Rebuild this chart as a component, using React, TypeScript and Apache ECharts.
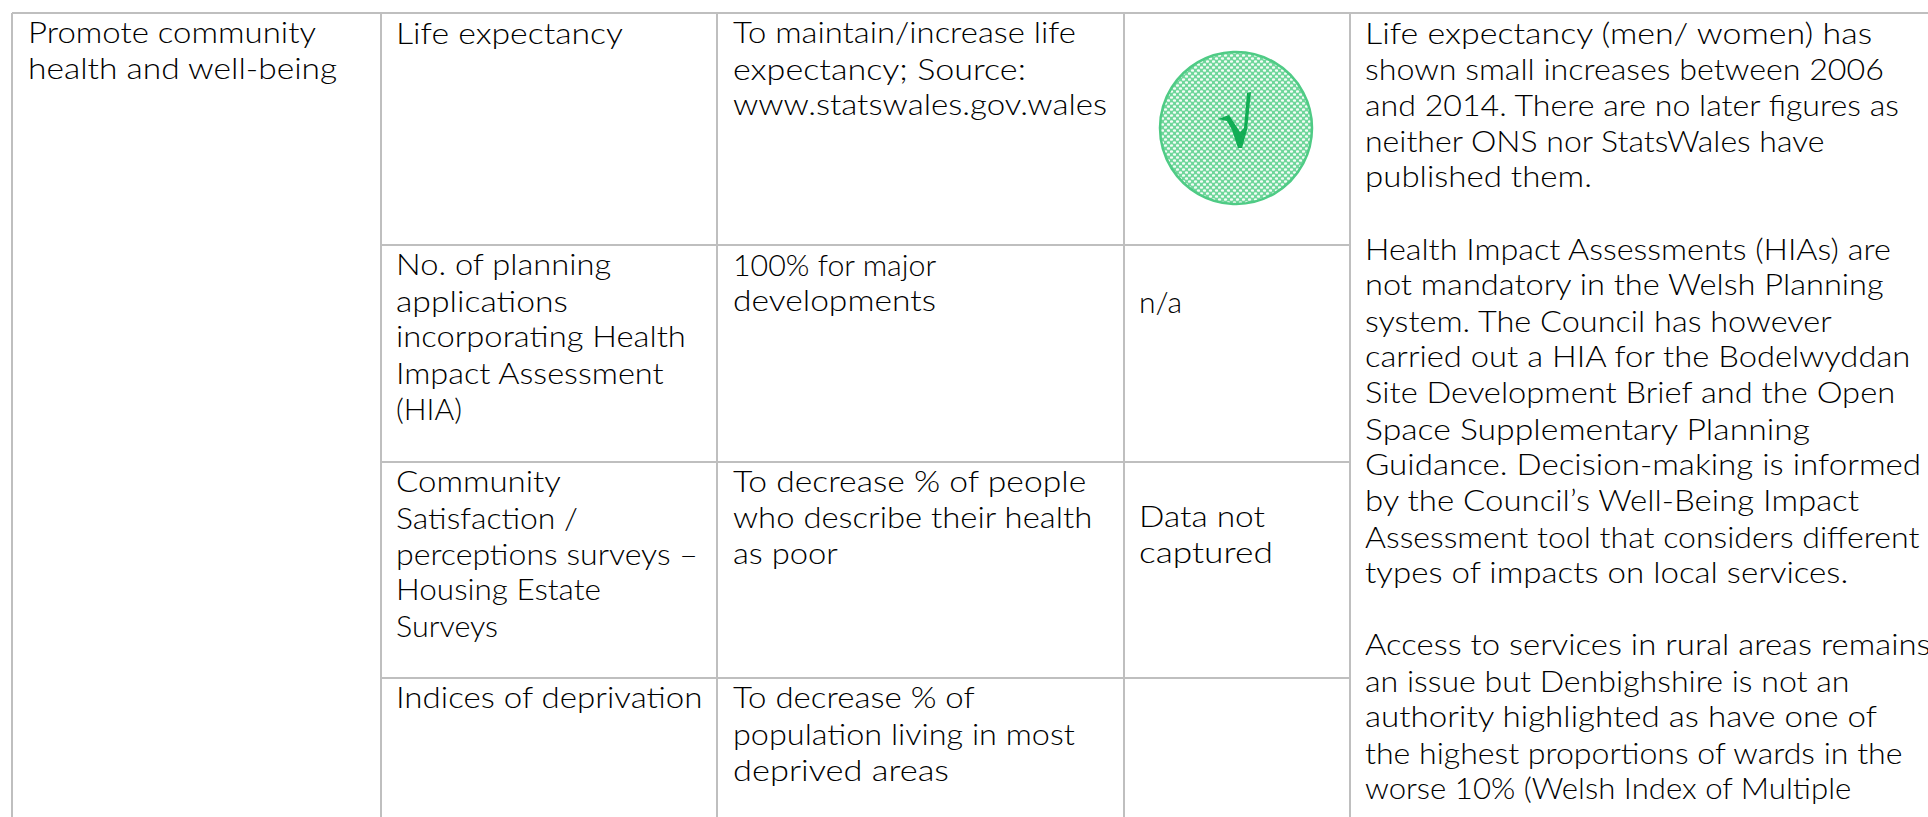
import React, { useEffect, useRef } from "react";
import * as echarts from "echarts";

const col1Lines = ["Promote community", "health and well-being"];
const col1Widths = [288, 310];
const col2Cells = [
  ["Life expectancy"],
  ["No. of planning", "applications", "incorporating Health", "Impact Assessment", "(HIA)"],
  ["Community", "Satisfaction /", "perceptions surveys –", "Housing Estate", "Surveys"],
  ["Indices of deprivation"],
];
const col2Widths = [[227], [216, 172, 290, 269, 66], [165, 182, 302, 205, 102], [307]];
const col3Cells = [
  ["To maintain/increase life", "expectancy; Source:", "www.statswales.gov.wales"],
  ["100% for major", "developments"],
  ["To decrease % of people", "who describe their health", "as poor"],
  ["To decrease % of", "population living in most", "deprived areas"],
];
const col3Widths = [[343, 293, 374], [204, 203], [354, 360, 105], [242, 342, 216]];
const col4Cells = [[], ["n/a"], ["Data not", "captured"], []];
const col4Widths = [[], [43], [126, 134], []];
const col5Lines = [
  "Life expectancy (men/ women) has",
  "shown small increases between 2006",
  "and 2014. There are no later figures as",
  "neither ONS nor StatsWales have",
  "published them.",
  "",
  "Health Impact Assessments (HIAs) are",
  "not mandatory in the Welsh Planning",
  "system. The Council has however",
  "carried out a HIA for the Bodelwyddan",
  "Site Development Brief and the Open",
  "Space Supplementary Planning",
  "Guidance. Decision-making is informed",
  "by the Council’s Well-Being Impact",
  "Assessment tool that considers different",
  "types of impacts on local services.",
  "",
  "Access to services in rural areas remains",
  "an issue but Denbighshire is not an",
  "authority highlighted as have one of",
  "the highest proportions of wards in the",
  "worse 10% (Welsh Index of Multiple",
];
const col5Widths = [509, 519, 536, 461, 227, 0, 527, 520, 468, 547, 531, 446, 556, 496, 555, 484, 0, 566, 485, 513, 539, 487];

const colX = [12, 381, 717, 1124, 1350];
const rowY = [13, 245, 462, 678];
const textX = [28, 396, 733, 1139, 1365];
const rowBase = [43, 275, 492, 708];
const col4Base = [0, 312, 527, 0];
const LH = 36;
const FONT = 30;
const FONT_CSS = `300 ${FONT}px Lato`;
const LINE = "#bfbfbf";
const W = 1928, H = 817;

const measureCtx = document.createElement("canvas").getContext("2d")!;
measureCtx.font = FONT_CSS;

function textEl(str: string, width: number, x: number, base: number) {
  const natural = measureCtx.measureText(str).width || 1;
  return {
    type: "text", x, y: base - 26, scaleX: width / natural, silent: true,
    style: { text: str, x: 0, y: 0, fill: "#000000", font: FONT_CSS, textAlign: "left", textVerticalAlign: "top" },
  };
}
function cellLines(lines: string[], widths: number[], x: number, firstBase: number) {
  return lines.map((s, i) => textEl(s, widths[i], x, firstBase + i * LH)).filter((e) => e.style.text);
}
function hline(x1: number, x2: number, y: number) {
  return { type: "line", silent: true, shape: { x1, y1: y, x2, y2: y }, style: { stroke: LINE, lineWidth: 2 } };
}
function vline(x: number, y1: number, y2: number) {
  return { type: "line", silent: true, shape: { x1: x, y1, x2: x, y2 }, style: { stroke: LINE, lineWidth: 2 } };
}
function dotTile() {
  const c = document.createElement("canvas");
  c.width = 6; c.height = 6;
  const g = c.getContext("2d")!;
  g.fillStyle = "#6ed69a"; g.fillRect(0, 0, 6, 6);
  g.fillStyle = "#f4fcf7";
  for (const [x, y] of [[1.5, 1.5], [4.5, 4.5]]) { g.beginPath(); g.ellipse(x, y, 1.7, 1.3, 0, 0, 7); g.fill(); }
  return c;
}

export default function App() {
  const ref = useRef<HTMLDivElement>(null);
  useEffect(() => {
    const chart = echarts.init(ref.current!, undefined, { renderer: "svg" });
    const els: any[] = [];
    els.push(hline(colX[0], W, rowY[0]));
    colX.forEach((x) => els.push(vline(x, rowY[0], H)));
    rowY.slice(1).forEach((y) => els.push(hline(colX[1], colX[4], y)));
    els.push(...cellLines(col1Lines, col1Widths, textX[0], rowBase[0]));
    col2Cells.forEach((c, i) => els.push(...cellLines(c, col2Widths[i], textX[1], rowBase[i])));
    col3Cells.forEach((c, i) => els.push(...cellLines(c, col3Widths[i], textX[2], rowBase[i])));
    col4Cells.forEach((c, i) => els.push(...cellLines(c, col4Widths[i], textX[3], col4Base[i])));
    els.push(...cellLines(col5Lines, col5Widths, textX[4], rowBase[0]));
    els.push({
      type: "circle", silent: true, shape: { cx: 1236, cy: 128, r: 76 },
      style: { fill: { image: dotTile(), repeat: "repeat" }, stroke: "#4fcb85", lineWidth: 2.5 },
    });
    els.push({
      type: "polygon", silent: true,
      shape: { points: [[1218, 119], [1229, 115], [1240, 132], [1244, 128], [1247, 93], [1251, 92], [1247, 130], [1242, 148], [1238, 148], [1232, 130], [1227, 121]] },
      style: { fill: "#12ad55" },
    });
    chart.setOption({ animation: false, backgroundColor: "#ffffff", graphic: { elements: els } });
    return () => chart.dispose();
  }, []);
  return <div ref={ref} style={{ position: "fixed", left: 0, top: 0, width: W, height: H }} />;
}
